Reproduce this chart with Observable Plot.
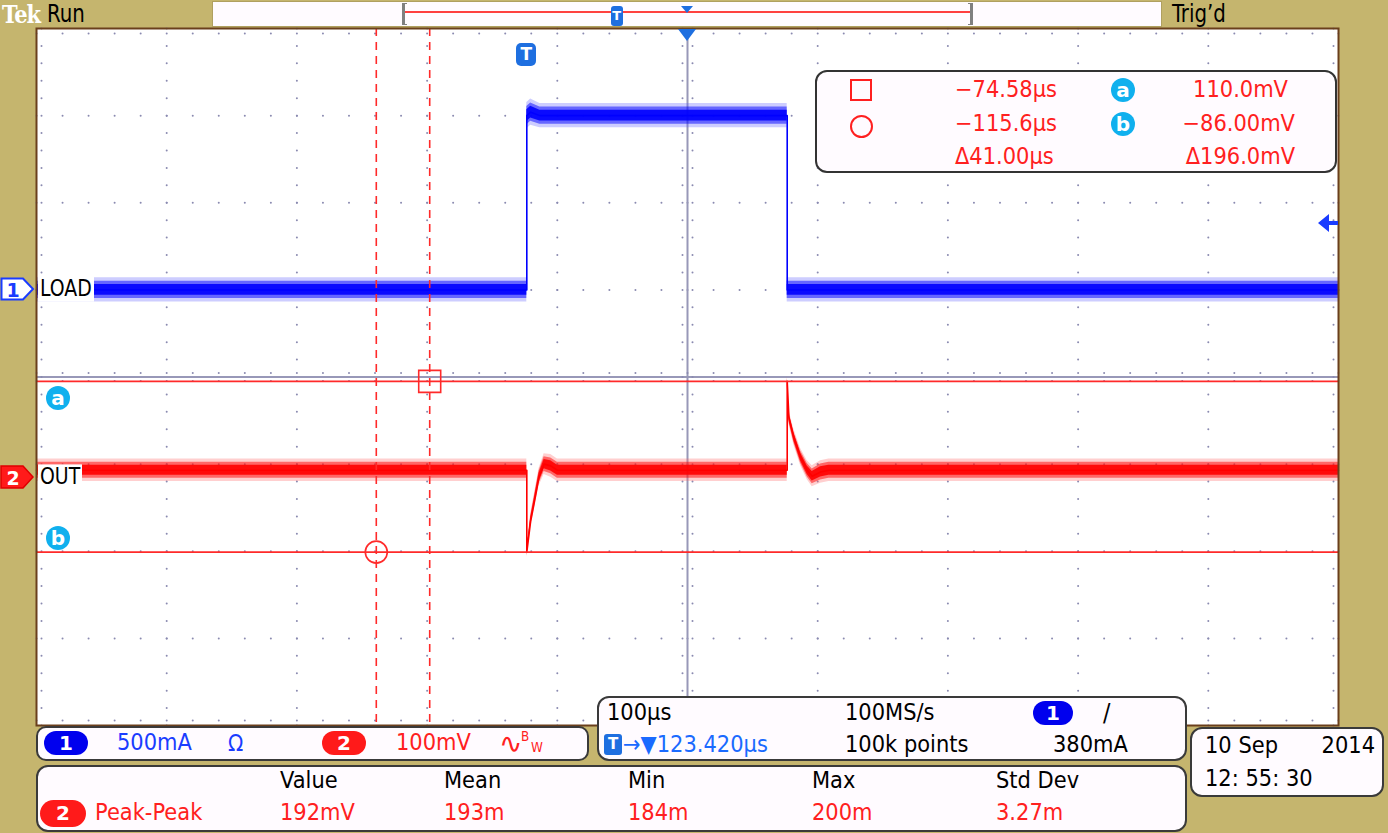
<!DOCTYPE html>
<html><head><meta charset="utf-8">
<script src="https://cdn.jsdelivr.net/npm/d3@7"></script>
<script src="https://cdn.jsdelivr.net/npm/@observablehq/plot@0.6"></script>
<style>
html,body{margin:0;padding:0;background:#c5b56e;}
#scope{position:relative;width:1388px;height:833px;overflow:hidden;background:#c5b56e;}
.abs{position:absolute;white-space:nowrap;}
</style></head><body><div id="scope"></div><script>
// ---------------- data ----------------
const timePerDiv = 100;        // µs / div
const horizCenter = 123.42;    // µs at screen centre (trigger delay)
const hDivs = 10, vDivs = 8;
const ch1Scale = 0.5;          // A / div  (LOAD)
const ch1Offset = 1.0;         // div
const ch2Scale = 100;          // mV / div (OUT)
const ch2Offset = -1.15;       // div

// LOAD current (A)
const loadT      = [-376.58, 0, 0, 3, 10, 200, 200, 623.42];
const loadA      = [0.0, 0.0, 1.0, 1.02, 1.0, 1.0, 0.0, 0.0];
const loadNoiseA = [0.07, 0.07, 0.075, 0.075, 0.07, 0.07, 0.07, 0.07];

// OUT voltage (mV)
const outT       = [-376.58, 0, 0, 3, 5.6, 9.4, 13.3, 18.4, 23.5, 200, 200, 201.3, 205.1, 210.3, 215.4, 219.2, 225.6, 232, 623.42];
const outMV      = [8, 8, -86, -50, -30, 0, 15, 13, 8, 8, 110, 69, 46, 23, 8, 1, 6, 8, 8];
const outNoiseMV = [13, 13, 6, 8, 9, 10, 12, 13, 13, 13, 6, 8, 9, 10, 11, 12, 13, 13, 13];

// cursors
const cursorTimes  = [-74.58, -115.6];   // µs (square, circle)
const cursorVolts  = [110.0, -86.0];     // mV (a, b)
const cursorTimeLabels = ["−74.58µs", "−115.6µs", "Δ41.00µs"];
const cursorVoltLabels = ["110.0mV", "−86.00mV", "Δ196.0mV"];
const triggerTime = 0;                   // µs
const triggerLevelA = 0.38;              // A

// read-outs
const chanLabels = ["LOAD", "OUT"];
const chanScaleLabels = ["500mA", "100mV"];
const measHeaders = ["Value", "Mean", "Min", "Max", "Std Dev"];
const measValues  = ["192mV", "193m", "184m", "200m", "3.27m"];
const measName = "Peak-Peak";
const timeReadouts = ["100µs", "100MS/s", "123.420µs", "100k points", "380mA"];
const dateLines = ["10 Sep", "2014", "12: 55: 30"];

// ---------------- helpers ----------------
const FONT = '"DejaVu Sans","Liberation Sans",sans-serif';
const NARROW = '"DejaVu Sans Condensed","Liberation Sans Narrow","DejaVu Sans",sans-serif';
const RED = "#ff2020", BLUE = "#1a3cff", CYAN = "#10b0ee";
const root = document.getElementById("scope");
function el(tag, css, html) {
  const e = document.createElement(tag); e.className = "abs";
  Object.assign(e.style, css); if (html != null) e.innerHTML = html;
  root.appendChild(e); return e;
}
function txt(s, x, y, o = {}) {
  const tx = o.anchor === "end" ? "-100%" : o.anchor === "middle" ? "-50%" : "0";
  const e = el("div", {left: x + "px", top: y + "px", fontSize: (o.size || 21) + "px", color: o.color || "#000",
    fontWeight: o.weight || "normal", fontFamily: o.family || FONT, lineHeight: "1",
    letterSpacing: o.ls || "0px",
    transform: `translate(${tx},-50%) scaleY(${o.sy || 1.12})`,
    background: o.bg || "none", padding: o.pad || "0"});
  e.textContent = s; return e;
}
function box(x, y, w, h, o = {}) {
  return el("div", {left: x + "px", top: y + "px", width: w + "px", height: h + "px", boxSizing: "border-box",
    background: o.bg || "#fffbff", border: (o.bw == null ? 2 : o.bw) + "px solid " + (o.bc || "#3a3a3a"),
    borderRadius: (o.r == null ? 12 : o.r) + "px"});
}
function pill(label, x, cy, w, h, bg, fg) {
  const e = el("div", {left: x + "px", top: (cy - h / 2) + "px", width: w + "px", height: h + "px", background: bg,
    borderRadius: (h / 2) + "px", color: fg, fontFamily: "DejaVu Sans", fontWeight: "bold", fontSize: "20px",
    lineHeight: h + "px", textAlign: "center"});
  e.textContent = label; return e;
}

// ---------------- chart ----------------
const tMin = horizCenter - timePerDiv * hDivs / 2, tMax = horizCenter + timePerDiv * hDivs / 2;
const divToT = d => horizCenter + d * timePerDiv;
const load = loadT.map((t, i) => ({t, y: loadA[i] / ch1Scale + ch1Offset, n: loadNoiseA[i] / ch1Scale}));
const out = outT.map((t, i) => ({t, y: outMV[i] / ch2Scale + ch2Offset, n: outNoiseMV[i] / ch2Scale}));
const cursorY = cursorVolts.map(v => v / ch2Scale + ch2Offset);

const stepsX = d3.range(-hDivs * 5 / 2, hDivs * 5 / 2 + 1).map(i => i / 5);
const stepsY = d3.range(-vDivs * 5 / 2, vDivs * 5 / 2 + 1).map(i => i / 5);
const colDots = d3.range(-4, 5).filter(d => d !== 0).flatMap(d => stepsY.map(y => ({t: divToT(d), y})));
const rowDots = d3.range(-3, 4).filter(d => d !== 0).flatMap(r => stepsX.map(x => ({t: divToT(x), y: r})));
const vCenter = stepsY.map(y => ({t: horizCenter, y}));
const hCenter = stepsX.map(x => ({t: divToT(x), y: 0}));
const GRID = "#8a8ab0";

function traceMarks(data, color, light) {
  return [
    Plot.areaY(data, {x: "t", y1: d => d.y - d.n, y2: d => d.y + d.n, fill: light, fillOpacity: 0.3}),
    Plot.areaY(data, {x: "t", y1: d => d.y - d.n * 0.7, y2: d => d.y + d.n * 0.7, fill: color, fillOpacity: 0.5}),
    Plot.areaY(data, {x: "t", y1: d => d.y - d.n * 0.45, y2: d => d.y + d.n * 0.45, fill: color, fillOpacity: 0.9}),
    Plot.line(data, {x: "t", y: "y", stroke: color, strokeWidth: 1.6})
  ];
}

const plot = Plot.plot({
  width: 1388, height: 833,
  marginLeft: 36, marginRight: 50, marginTop: 28, marginBottom: 108,
  x: {domain: [tMin, tMax], axis: null},
  y: {domain: [-vDivs / 2, vDivs / 2], axis: null},
  style: {background: "transparent", overflow: "visible"},
  marks: [
    Plot.frame({fill: "white", stroke: null}),
    Plot.dot(colDots, {x: "t", y: "y", r: 1, fill: GRID}),
    Plot.dot(rowDots, {x: "t", y: "y", r: 1, fill: GRID}),
    Plot.ruleY([0], {stroke: "#9898b8", strokeWidth: 2}),
    Plot.ruleX([horizCenter], {stroke: "#9898b8", strokeWidth: 2}),
    Plot.dot(vCenter, {x: "t", y: "y", r: 1, fill: GRID, dx: -5}),
    Plot.dot(vCenter, {x: "t", y: "y", r: 1, fill: GRID, dx: 5}),
    Plot.dot(hCenter, {x: "t", y: "y", r: 1, fill: GRID, dy: -4}),
    Plot.dot(hCenter, {x: "t", y: "y", r: 1, fill: GRID, dy: 4}),
    Plot.dot(stepsX.map(x => ({t: divToT(x)})), {x: "t", y: () => vDivs / 2, r: 1, fill: GRID, dy: 5}),
    Plot.dot(stepsX.map(x => ({t: divToT(x)})), {x: "t", y: () => -vDivs / 2, r: 1, fill: GRID, dy: -5}),
    Plot.dot(stepsY.map(y => ({y})), {x: () => tMin, y: "y", r: 1, fill: GRID, dx: 5}),
    Plot.dot(stepsY.map(y => ({y})), {x: () => tMax, y: "y", r: 1, fill: GRID, dx: -5}),
    ...traceMarks(load, "#0000ff", "#5a5aff"),
    ...traceMarks(out, "#ff0000", "#ff6060"),
    Plot.ruleY(cursorY, {stroke: "#ff2a2a", strokeWidth: 1.6}),
    Plot.ruleX(cursorTimes, {stroke: "#ff2a2a", strokeWidth: 1.6, strokeDasharray: "8,6"}),
    Plot.dot([{t: cursorTimes[0], y: cursorY[0]}], {x: "t", y: "y", symbol: "square", r: 12.4, stroke: "#ff2a2a", strokeWidth: 1.6, fill: "none"}),
    Plot.dot([{t: cursorTimes[1], y: cursorY[1]}], {x: "t", y: "y", symbol: "circle", r: 11, stroke: "#ff2a2a", strokeWidth: 1.6, fill: "none"}),
    Plot.frame({stroke: "#6a3f1c", strokeWidth: 2})
  ]
});
Object.assign(plot.style, {position: "absolute", left: "0px", top: "0px"});
root.appendChild(plot);
const xs = plot.scale("x"), ys = plot.scale("y");

// ---------------- on-screen markers ----------------
const y1 = ys.apply(ch1Offset), y2 = ys.apply(ch2Offset);
el("div", {left: "0px", top: (y1 - 12) + "px"},
  `<svg width="36" height="24"><path d="M1.5,1.5 H23 L33,12 L23,22.5 H1.5 Z" fill="#fff" stroke="#1a3cff" stroke-width="2"/><text x="13" y="19.5" text-anchor="middle" font-size="19" font-weight="bold" fill="#1a3cff" font-family="DejaVu Sans">1</text></svg>`);
el("div", {left: "0px", top: (y2 - 12) + "px"},
  `<svg width="36" height="24"><path d="M1,1 H23 L33,12 L23,23 H1 Z" fill="#ff1a1a" stroke="#e00000" stroke-width="1.5"/><text x="13" y="19.5" text-anchor="middle" font-size="19" font-weight="bold" fill="#fff" font-family="DejaVu Sans">2</text></svg>`);
txt(chanLabels[0], 38, y1, {size: 21, bg: "#fff", pad: "1px 2px", family: NARROW, sy: 1.1});
txt(chanLabels[1], 38, y2, {size: 21, bg: "#fff", pad: "1px 2px", family: NARROW, sy: 1.1});
pill("a", 46, ys.apply(cursorY[0]) + 17, 24, 24, CYAN, "#fff");
pill("b", 46, ys.apply(cursorY[1]) - 14, 24, 24, CYAN, "#fff");

// trigger marker (T) and horizontal position triangle
const xT = xs.apply(triggerTime), xC = xs.apply(horizCenter);
el("div", {left: (xT - 10) + "px", top: "43px", width: "20px", height: "23px", background: "#1e6fe0", borderRadius: "5px",
  color: "#fff", fontFamily: "DejaVu Sans", fontWeight: "bold", fontSize: "17px", lineHeight: "23px", textAlign: "center"}).textContent = "T";
el("div", {left: (xC - 9) + "px", top: "28px"}, `<svg width="18" height="13"><path d="M0,0 H18 L9,12 Z" fill="#1e6fe0"/></svg>`);
// trigger level arrow
const yTrig = ys.apply(triggerLevelA / ch1Scale + ch1Offset);
el("div", {left: "1318px", top: (yTrig - 10) + "px"}, `<svg width="20" height="20"><path d="M0,10 L11,1 L11,8 L20,8 L20,12 L11,12 L11,19 Z" fill="#1a3cff"/></svg>`);

// ---------------- top status bar ----------------
txt("Tek", 2, 14, {size: 21, color: "#fff", weight: "bold", family: '"DejaVu Serif","Liberation Serif",serif', ls: "-1px", sy: 1.15});
txt("Run", 47, 14, {family: NARROW, size: 22});
txt("Trig’d", 1172, 14, {family: NARROW, size: 22});
box(212, 1, 950, 26, {r: 0, bw: 1, bc: "#b0a060", bg: "#fffbff"});
const recL = 402, recR = 972;
const recX = t => recL + (recR - recL) * (t - tMin) / (tMax - tMin);
el("div", {left: (recL + 2) + "px", top: "11px", width: (recR - recL - 4) + "px", height: "2px", background: "#ff4040"});
el("div", {left: recL + "px", top: "3px", height: "22px", borderLeft: "3px solid #808080", borderTop: "1px solid #808080", borderBottom: "1px solid #808080", boxSizing: "border-box", width: "5px"});
el("div", {left: (recR - 4) + "px", top: "3px", height: "22px", borderRight: "3px solid #808080", borderTop: "1px solid #808080", borderBottom: "1px solid #808080", boxSizing: "border-box", width: "5px"});
el("div", {left: (recX(triggerTime) - 6) + "px", top: "6px", width: "12px", height: "20px", background: "#1e6fe0", borderRadius: "3px",
  color: "#fff", fontFamily: "DejaVu Sans", fontWeight: "bold", fontSize: "13px", lineHeight: "20px", textAlign: "center"}).textContent = "T";
el("div", {left: (recX(horizCenter) - 6) + "px", top: "0px"}, `<svg width="12" height="8"><path d="M0,0 H12 L6,7 Z" fill="#1e6fe0"/></svg>`);

// ---------------- cursor read-out box ----------------
box(815, 70, 522, 103, {r: 12, bc: "#333"});
el("div", {left: "850px", top: "79px", width: "22px", height: "22px", border: "2px solid " + RED, boxSizing: "border-box"});
el("div", {left: "850px", top: "115px", width: "23px", height: "23px", border: "2px solid " + RED, borderRadius: "50%", boxSizing: "border-box"});
txt(cursorTimeLabels[0], 955, 90, {color: RED});
txt(cursorTimeLabels[1], 955, 124, {color: RED});
txt(cursorTimeLabels[2], 955, 157, {color: RED});
pill("a", 1111, 90, 24, 24, CYAN, "#fff");
pill("b", 1111, 124, 24, 24, CYAN, "#fff");
txt(cursorVoltLabels[0], 1288, 90, {color: RED, anchor: "end"});
txt(cursorVoltLabels[1], 1295, 124, {color: RED, anchor: "end"});
txt(cursorVoltLabels[2], 1295, 157, {color: RED, anchor: "end"});

// ---------------- bottom panels ----------------
box(36, 726, 553, 35, {r: 10});
pill("1", 44, 743, 44, 24, "#0000ee", "#fff");
txt(chanScaleLabels[0], 117, 743, {color: BLUE});
txt("Ω", 228, 743, {color: BLUE, size: 20});
pill("2", 322, 743, 44, 24, "#ff1a1a", "#fff");
txt(chanScaleLabels[1], 396, 743, {color: RED});
txt("∿", 499, 744, {color: RED, size: 28, sy: 1});
txt("B", 521, 737, {color: RED, size: 12});
txt("W", 531, 748, {color: RED, size: 12});

box(36, 765, 1151, 67, {r: 12});
const measX = [280, 444, 628, 812, 996];
measHeaders.forEach((h, i) => txt(h, measX[i], 781, {}));
measValues.forEach((v, i) => txt(v, measX[i], 813, {color: RED}));
pill("2", 40, 813, 46, 27, "#ff1a1a", "#fff");
txt(measName, 95, 813, {color: RED});

box(597, 696, 590, 65, {r: 12});
txt(timeReadouts[0], 607, 713, {});
txt(timeReadouts[1], 845, 713, {});
pill("1", 1033, 713, 40, 24, "#0000ee", "#fff");
txt("/", 1103, 713, {size: 22});
el("div", {left: "604px", top: "734px", width: "18px", height: "21px", background: "#1e6fe0", borderRadius: "3px",
  color: "#fff", fontFamily: "DejaVu Sans", fontWeight: "bold", fontSize: "15px", lineHeight: "21px", textAlign: "center"}).textContent = "T";
txt("→▼" + timeReadouts[2], 623, 745, {color: "#1a6aff"});
txt(timeReadouts[3], 845, 745, {});
txt(timeReadouts[4], 1053, 745, {});

box(1190, 727, 194, 70, {r: 12});
txt(dateLines[0], 1205, 746, {});
txt(dateLines[1], 1375, 746, {anchor: "end"});
txt(dateLines[2], 1205, 779, {});
</script></body></html>
